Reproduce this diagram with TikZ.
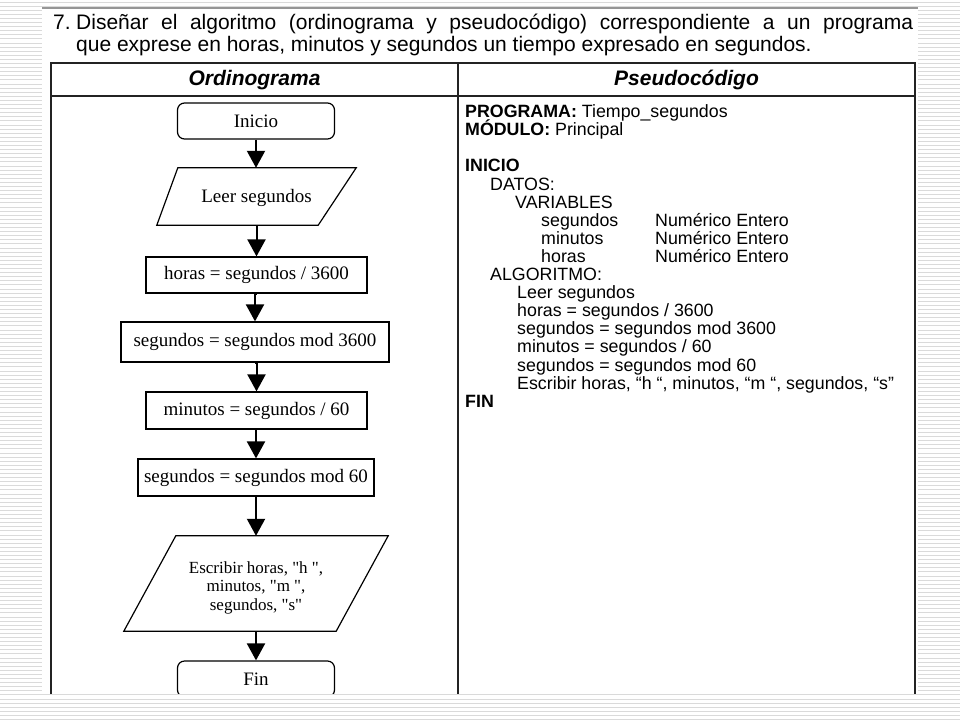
\documentclass[tikz,border=0pt]{standalone}
\usepackage{fontspec}
\setmainfont{Liberation Sans}
\newfontfamily\flowfont[Ligatures=TeXOff]{Liberation Serif}
\usepackage{tikz}
\usetikzlibrary{arrows.meta,shapes,positioning}
\usepackage{xcolor}
\definecolor{slstripe}{RGB}{218,218,218}
\definecolor{slshadow}{RGB}{150,150,150}
\definecolor{tbline}{RGB}{35,35,35}
\tikzstyle{arrow} = [line width=2pt,-{Triangle[length=17pt,width=18pt]}]
\tikzstyle{terminal} = [rectangle, rounded corners=7pt, minimum width=157pt, minimum height=36pt, draw, line width=1.2pt, font={\flowfont\fontsize{19}{22}\selectfont}]
\tikzstyle{process} = [rectangle, minimum height=37pt, draw, line width=1.2pt, font={\flowfont\fontsize{19}{22}\selectfont}]
\tikzstyle{iobox} = [rectangle, inner sep=0pt, font={\flowfont\fontsize{19}{22}\selectfont}]
\tikzstyle{ioline} = [line width=1.2pt, line join=miter]
\tikzstyle{header} = [font={\bfseries\itshape\fontsize{21}{24}\selectfont}]
\begin{document}
\begin{tikzpicture}[x=1pt,y=-1pt]
    \useasboundingbox (0,0) rectangle (960,720);

    % slide background
    \foreach \yy in {2,6.1,...,720} \draw[slstripe, line width=1pt] (0,\yy) -- (960,\yy);
    \fill[white] (42,8) rectangle (918,693);
    \draw[slshadow, line width=2pt] (42,8) -- (918,8);

    \begin{scope}
    \clip (42,8) rectangle (918,693);

    % Title
    \node[anchor=base west, inner sep=0pt, font={\fontsize{21}{22}\selectfont}] (num) at (53,29) {7.};
    \node[anchor=north west, inner sep=0pt, align=left, font={\fontsize{21}{22}\selectfont}] (title) at (76,14)
        {\makebox[837pt][s]{Diseñar el algoritmo (ordinograma y pseudocódigo) correspondiente a un programa}\\
         que exprese en horas, minutos y segundos un tiempo expresado en segundos.};

    % Table
    \draw[tbline, line width=1.6pt] (51,63) rectangle (915,720);
    \draw[tbline, line width=1.6pt] (51,96) -- (915,96);
    \draw[tbline, line width=1.6pt] (458,63) -- (458,720);
    \node[header] (hordino) at (254.5,80) {Ordinograma};
    \node[header] (hpseudo) at (686.5,80) {Pseudocódigo};

    % Ordinograma
    \node[terminal] (inicio) at (256,121) {Inicio};
    \node[iobox, minimum width=199pt, minimum height=57pt] (leer) at (256.5,196.5) {};
    \draw[ioline] (leer.south west) -- ([xshift=21pt]leer.north west) -- (leer.north east) -- ([xshift=-38pt]leer.south east) -- cycle;
    \node[iobox] (leertxt) at ([yshift=-1.5pt]leer.center) {Leer segundos};
    \node[process, minimum width=221pt, minimum height=36pt] (horas) at (256.5,275) {horas = segundos / 3600};
    \node[process, minimum width=268pt, minimum height=40pt] (segh) at (255,342) {segundos = segundos mod 3600};
    \node[process, minimum width=221pt] (minutos) at (256.5,410.5) {minutos = segundos / 60};
    \node[process, minimum width=236pt] (segm) at (256,477.5) {segundos = segundos mod 60};
    \node[iobox, minimum width=264pt, minimum height=95pt] (escribir) at (256,583.5) {};
    \draw[ioline] (escribir.south west) -- ([xshift=52pt]escribir.north west) -- (escribir.north east) -- ([xshift=-52pt]escribir.south east) -- cycle;
    \node[iobox, align=center, font={\flowfont\fontsize{17}{18.5}\selectfont}] (escribirtxt) at ([yshift=-4pt]escribir.center) {Escribir horas, "h ",\\ minutos, "m ",\\ segundos, "s"};
    \node[terminal] (fin) at (256,679) {Fin};

    % Arrows
    \draw[arrow] (inicio.south) -- (inicio.south |- leer.north);
    \draw[arrow] (leer.south -| horas.north) -- (horas.north);
    \draw[arrow] (horas.south) -- (horas.south -| segh.north) -- (segh.north);
    \draw[arrow] (segh.south) -- (segh.south -| minutos.north) -- (minutos.north);
    \draw[arrow] (minutos.south) -- (minutos.south -| segm.north) -- (segm.north);
    \draw[arrow] (segm.south) -- (segm.south |- escribir.north);
    \draw[arrow] (escribir.south -| fin.north) -- (fin.north);

    % Pseudocodigo
    \node[anchor=north west, inner sep=0pt, align=left, font={\fontsize{17.8}{18.1}\selectfont\lineskiplimit=-20pt}] (pseudo) at (465,104.5)
        {\textbf{PROGRAMA:} Tiempo\_segundos\\
         \textbf{MÓDULO:} Principal\\[18.1pt]
         \textbf{INICIO}\\
         \hspace*{25pt}DATOS:\\
         \hspace*{50pt}VARIABLES\\
         \hspace*{76pt}\makebox[114pt][l]{segundos}Numérico Entero\\
         \hspace*{76pt}\makebox[114pt][l]{minutos}Numérico Entero\\
         \hspace*{76pt}\makebox[114pt][l]{horas}Numérico Entero\\
         \hspace*{25pt}ALGORITMO:\\
         \hspace*{52pt}Leer segundos\\
         \hspace*{52pt}horas = segundos / 3600\\
         \hspace*{52pt}segundos = segundos mod 3600\\
         \hspace*{52pt}minutos = segundos / 60\\
         \hspace*{52pt}segundos = segundos mod 60\\
         \hspace*{52pt}Escribir horas, “h “, minutos, “m “, segundos, “s”\\
         \textbf{FIN}};
    \end{scope}
\end{tikzpicture}
\end{document}
